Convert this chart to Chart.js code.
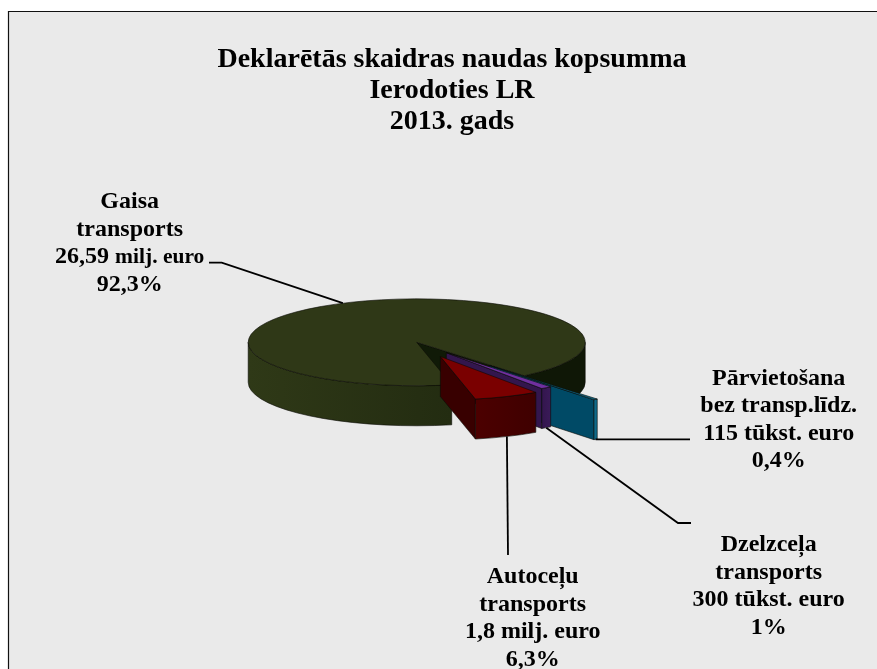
<!DOCTYPE html>
<html>
<head>
<meta charset="utf-8">
<title>Deklarētās skaidras naudas kopsumma</title>
<script src="https://cdn.jsdelivr.net/npm/chart.js@4/dist/chart.umd.min.js"></script>
<style>
    html, body { margin: 0; padding: 0; background: #fff; overflow: hidden; }
    #wrap { width: 877px; height: 669px; position: relative; }
</style>
</head>
<body>
<div id="wrap"><canvas id="chart" width="877" height="669"></canvas></div>
<script>
// Chart data, amounts in million euro
const categories = ['Gaisa transports', 'Pārvietošana bez transp.līdz.', 'Dzelzceļa transports', 'Autoceļu transports'];
const amounts = [26.59, 0.115, 0.3, 1.8];
const titleLines = ['Deklarētās skaidras naudas kopsumma', 'Ierodoties LR', '2013. gads'];
const labelLines = [
    ['Gaisa', 'transports', '26,59 milj. euro', '92,3%'],
    ['Pārvietošana', 'bez transp.līdz.', '115 tūkst. euro', '0,4%'],
    ['Dzelzceļa', 'transports', '300 tūkst. euro', '1%'],
    ['Autoceļu', 'transports', '1,8 milj. euro', '6,3%']
];

// Look of the tilted pie
const FONT = '"Liberation Serif", "Times New Roman", serif';
const pieCentre = { x: 416.7, y: 342.3 };
const squash = 0.258;
const depth = 40;
const explode = [0, 116, 50, 60];
const topColors = ['#2f3817', '#0f6a8a', '#7030a0', '#7a0000'];
const cutColors = ['#101a07', '#004a66', '#33164d', '#380000'];
const frontColors = [['#232c11', '#2f3917'], ['#0f6a8a', '#0f6a8a'], ['#3a1a58', '#33164d'], ['#3f0000', '#4c0000']];
const backColor = '#0f1706';

// Label placement: centre x and first baseline, then leader line bends
const labelBoxes = [
    { x: 129.7, y: 208, step: 27.7 },
    { x: 778.7, y: 385, step: 27.4 },
    { x: 768.7, y: 551, step: 27.7 },
    { x: 532.7, y: 583, step: 27.7 }
];
const leaderBends = [
    [[221.7, 262.7], [209, 262.7]],
    [[690, 439.3]],
    [[678, 523], [691, 523]],
    [[508, 555]]
];

function sliceGeometry(arc, i) {
    const p = arc.getProps(['startAngle', 'endAngle', 'outerRadius']);
    const half = (p.startAngle + p.endAngle) / 2;
    const ox = pieCentre.x + Math.cos(half) * explode[i];
    const oy = pieCentre.y + Math.sin(half) * explode[i] * squash;
    return {
        s: p.startAngle, e: p.endAngle, half, r: p.outerRadius, ox, oy,
        at(a, d) {
            return { x: ox + p.outerRadius * Math.cos(a), y: oy + p.outerRadius * Math.sin(a) * squash + (d || 0) };
        }
    };
}

function strokeFace(ctx, fill) {
    ctx.fillStyle = fill;
    ctx.fill();
    ctx.lineWidth = 0.6;
    ctx.strokeStyle = '#0a0a05';
    ctx.stroke();
}

function drawOuterFace(ctx, g, i, a, b, isBack) {
    const from = g.at(a), to = g.at(b);
    const grad = ctx.createLinearGradient(from.x, 0, to.x, 0);
    grad.addColorStop(0, isBack ? backColor : frontColors[i][0]);
    grad.addColorStop(1, isBack ? backColor : frontColors[i][1]);
    ctx.beginPath();
    ctx.ellipse(g.ox, g.oy, g.r, g.r * squash, 0, a, b);
    ctx.ellipse(g.ox, g.oy + depth, g.r, g.r * squash, 0, b, a, true);
    ctx.closePath();
    strokeFace(ctx, grad);
}

function drawSlice(ctx, arc, i) {
    const g = sliceGeometry(arc, i);

    // radial cut at the end of the slice, the only one that faces the viewer
    const c1 = g.at(g.e), c2 = g.at(g.e, depth);
    ctx.beginPath();
    ctx.moveTo(g.ox, g.oy);
    ctx.lineTo(c1.x, c1.y);
    ctx.lineTo(c2.x, c2.y);
    ctx.lineTo(g.ox, g.oy + depth);
    ctx.closePath();
    strokeFace(ctx, cutColors[i]);

    // rim, only the half of the ellipse nearest to the viewer
    const TAU = Math.PI * 2;
    [0, TAU].forEach(shift => {
        const a = Math.max(g.s, shift), b = Math.min(g.e, shift + Math.PI);
        // only the big slice wraps round to the shaded right side
        if (b > a) drawOuterFace(ctx, g, i, a, b, shift > 0 && g.s < TAU);
    });

    // top face, drawn by the arc element under a squashed transform
    ctx.save();
    ctx.translate(g.ox, g.oy);
    ctx.scale(1, squash);
    ctx.translate(-arc.x, -arc.y);
    arc.draw(ctx);
    ctx.restore();

    ctx.beginPath();
    ctx.moveTo(g.ox, g.oy);
    ctx.ellipse(g.ox, g.oy, g.r, g.r * squash, 0, g.s, g.e);
    ctx.closePath();
    ctx.lineWidth = 0.6;
    ctx.strokeStyle = '#0a0a05';
    ctx.stroke();
}

// Chart.js has no 3D pie, so the slices are extruded here
const tiltedPie = {
    id: 'tiltedPie',
    beforeDraw(chart) {
        const ctx = chart.ctx;
        ctx.save();
        ctx.fillStyle = '#eaeaea';
        ctx.fillRect(8, 11, chart.width - 8, chart.height - 11);
        ctx.strokeStyle = '#111';
        ctx.lineWidth = 1.2;
        ctx.beginPath();
        ctx.moveTo(8.5, chart.height);
        ctx.lineTo(8.5, 11.5);
        ctx.lineTo(chart.width, 11.5);
        ctx.stroke();
        ctx.restore();
    },
    beforeDatasetDraw(chart, args) {
        args.meta.data.forEach((arc, i) => drawSlice(chart.ctx, arc, i));
        return false;
    },
    afterDraw(chart) {
        const ctx = chart.ctx;
        const arcs = chart.getDatasetMeta(0).data;
        ctx.save();
        // leader lines start on the slices
        ctx.strokeStyle = '#000';
        ctx.lineWidth = 1.8;
        arcs.forEach((arc, i) => {
            const g = sliceGeometry(arc, i);
            const start = i === 0 ? g.at(244 * Math.PI / 180) : g.at(g.half, depth);
            ctx.beginPath();
            ctx.moveTo(start.x, start.y);
            leaderBends[i].forEach(p => ctx.lineTo(p[0], p[1]));
            ctx.stroke();
        });
        // labels
        ctx.fillStyle = '#000';
        ctx.textBaseline = 'alphabetic';
        labelLines.forEach((lines, i) => {
            const box = labelBoxes[i];
            lines.forEach((line, n) => {
                const y = box.y + n * box.step;
                const big = 'bold 24px ' + FONT;
                ctx.font = big;
                if (i === 0 && n === 2) {
                    // the unit is set smaller on this one line
                    const head = '26,59 ', tail = 'milj. euro';
                    const w1 = ctx.measureText(head).width;
                    ctx.font = 'bold 21.5px ' + FONT;
                    const w2 = ctx.measureText(tail).width;
                    const left = box.x - (w1 + w2) / 2;
                    ctx.textAlign = 'left';
                    ctx.fillText(tail, left + w1, y);
                    ctx.font = big;
                    ctx.fillText(head, left, y);
                } else {
                    ctx.textAlign = 'center';
                    ctx.fillText(line, box.x, y);
                }
            });
        });
        ctx.restore();
    }
};

new Chart(document.getElementById('chart'), {
    type: 'pie',
    plugins: [tiltedPie],
    data: {
        labels: categories,
        datasets: [{
            data: amounts,
            backgroundColor: topColors,
            borderWidth: 0,
            radius: 168.5
        }]
    },
    options: {
        responsive: false,
        animation: false,
        rotation: 168,
        events: [],
        layout: { padding: { left: 27, top: 44 } },
        plugins: {
            legend: { display: false },
            tooltip: { enabled: false },
            title: {
                display: true,
                text: titleLines,
                color: '#000',
                padding: 0,
                font: { family: FONT, size: 28, weight: 'bold', lineHeight: 1.107 }
            }
        }
    }
});
</script>
</body>
</html>
